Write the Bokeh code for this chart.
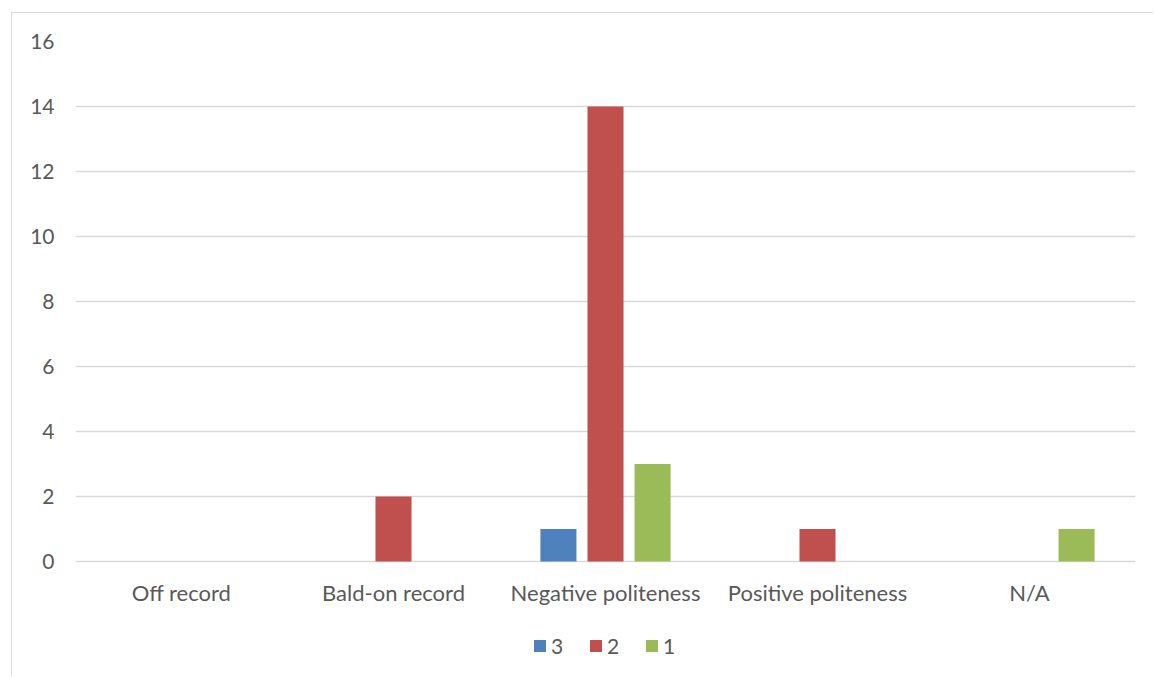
from bokeh.plotting import figure
from bokeh.models import ColumnDataSource, FactorRange, FixedTicker, Legend, LegendItem
from bokeh.core.properties import value
from bokeh.transform import dodge
from bokeh.embed import file_html
from bokeh.resources import INLINE

categories = ["Off record", "Bald-on record", "Negative politeness", "Positive politeness", "N/A"]
series_names = ["3", "2", "1"]
values_3 = [0, 0, 1, 0, 0]
values_2 = [0, 2, 14, 1, 0]
values_1 = [0, 0, 3, 0, 1]
colors = ["#4F81BD", "#C0504D", "#9BBB59"]
y_ticks = [0, 2, 4, 6, 8, 10, 12, 14, 16]

source = ColumnDataSource(dict(cat=categories, s3=values_3, s2=values_2, s1=values_1,
                               zero=[0] * len(categories)))

FONT = "Lato"
TXT = "#595959"
GRID = "#d9d9d9"

# frame spans from the top gridline down to the bottom of the window; the
# extra room below 0 holds the category labels and the legend
p = figure(
    x_range=FactorRange(factors=categories, range_padding=0),
    y_range=(-3.57, 16),
    width=1142, height=664,
    output_backend="svg", toolbar_location=None,
    min_border_left=63, min_border_right=19, min_border_top=28, min_border_bottom=0,
)
p.margin = (12, 0, 0, 11)
p.styles = {"border-top": "1px solid #d9d9d9", "border-left": "1px solid #d9d9d9"}
p.outline_line_color = None
p.background_fill_color = "white"
p.border_fill_color = "white"

offsets = [-0.222, 0.0, 0.222]
renderers = []
for key, off, col in zip(["s3", "s2", "s1"], offsets, colors):
    r = p.vbar(x=dodge("cat", off, range=p.x_range), top=key, width=0.17,
               source=source, fill_color=col, line_color=None)
    renderers.append(r)

# category labels under the zero line
p.text(x="cat", y="zero", text="cat", source=source, y_offset=31,
       text_align="center", text_baseline="middle",
       text_font=value(FONT), text_font_size="22px", text_color=TXT)

p.xgrid.grid_line_color = None
p.ygrid.grid_line_color = GRID
p.ygrid.grid_line_width = 1.5
p.ygrid.ticker = FixedTicker(ticks=y_ticks)

p.xaxis.visible = False

p.yaxis.ticker = FixedTicker(ticks=y_ticks)
p.yaxis.axis_line_color = None
p.yaxis.major_tick_line_color = None
p.yaxis.minor_tick_line_color = None
p.yaxis.major_label_text_font = FONT
p.yaxis.major_label_text_font_size = "21px"
p.yaxis.major_label_text_color = TXT
p.yaxis.major_label_standoff = 15

legend = Legend(
    items=[LegendItem(label=n, renderers=[r]) for n, r in zip(series_names, renderers)],
    orientation="horizontal", location=(457, 19),
    border_line_color=None, background_fill_alpha=0,
    label_text_font=FONT, label_text_font_size="21px", label_text_color=TXT,
    glyph_width=15, glyph_height=15, label_standoff=4, spacing=17,
    padding=0, margin=0,
)
p.add_layout(legend, "center")

open("out.html", "w").write(file_html(p, INLINE))
